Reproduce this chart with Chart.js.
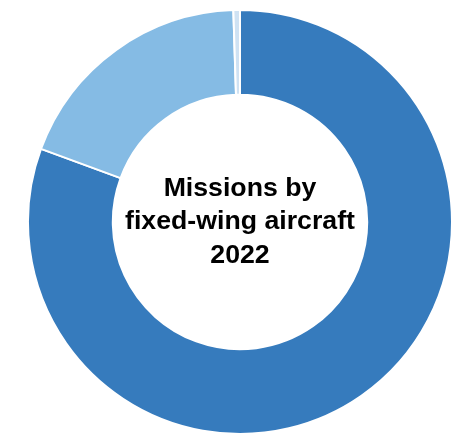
<!DOCTYPE html>
<html>
<head>
<meta charset="utf-8">
<script src="https://cdn.jsdelivr.net/npm/chart.js@4"></script>
<style>
  html, body { margin: 0; padding: 0; background: #fff; }
  body { width: 471px; height: 434px; position: relative; overflow: hidden; }
  #wrap { position: absolute; left: 27px; top: 9px; width: 426px; height: 426px; }
</style>
</head>
<body>
<div id="wrap"><canvas id="chart"></canvas></div>
<script>
// Shares (percent)
const categories = ["Segment A", "Segment B", "Segment C"];
const shares = [80.6, 18.9, 0.5];
const sliceColors = ["#367bbd", "#85bbe4", "#cfe2f3"];
const centerLines = ["Missions by", "fixed-wing aircraft", "2022"];

// Draws the title in the hole of the doughnut
const centerText = {
  id: "centerText",
  afterDraw(chart) {
    const arc = chart.getDatasetMeta(0).data[0];
    const ctx = chart.ctx;
    ctx.save();
    ctx.font = "bold 26.7px 'Liberation Sans', Arial, sans-serif";
    ctx.fillStyle = "#000";
    ctx.textAlign = "center";
    ctx.textBaseline = "middle";
    const gap = 33.5;
    centerLines.forEach((line, i) => {
      ctx.fillText(line, arc.x, arc.y + (i - 1) * gap);
    });
    ctx.restore();
  }
};

new Chart(document.getElementById("chart"), {
  type: "doughnut",
  data: {
    labels: categories,
    datasets: [{
      data: shares,
      backgroundColor: sliceColors,
      borderColor: "#ffffff",
      borderWidth: 2,
      hoverOffset: 0
    }]
  },
  options: {
    responsive: true,
    maintainAspectRatio: false,
    animation: false,
    cutout: "60%",
    layout: { padding: 0 },
    plugins: {
      legend: { display: false },
      tooltip: { enabled: false }
    }
  },
  plugins: [centerText]
});
</script>
</body>
</html>
